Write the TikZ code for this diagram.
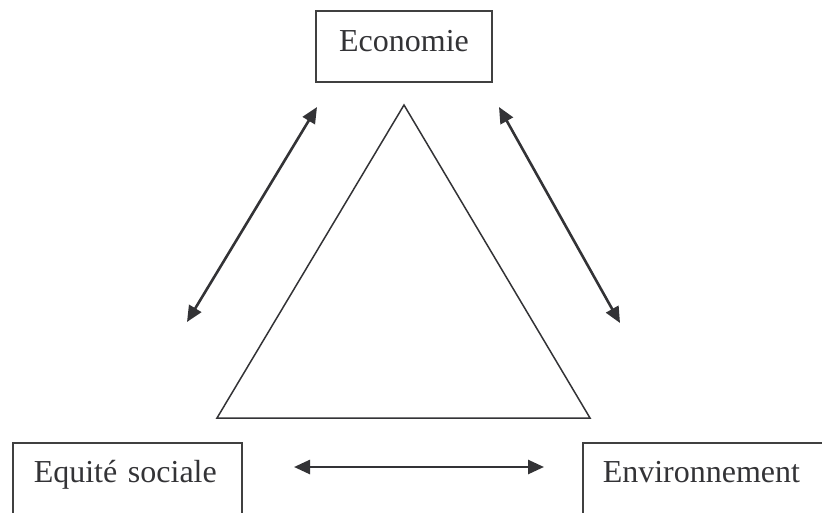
\documentclass[tikz,border=0pt]{standalone}
\usepackage{fontspec}
\setmainfont{Liberation Serif}
\usepackage{xcolor}
\usepackage{tikz}
\usetikzlibrary{arrows.meta,positioning}
\definecolor{ink}{HTML}{333336}
\definecolor{frame}{HTML}{404040}

\begin{document}
\begin{tikzpicture}[
  x=1pt,y=-1pt,
  box/.style={draw=frame,line width=1.5pt,text=ink,font=\fontsize{32}{38}\selectfont,
              inner xsep=0pt,inner ysep=0pt,text height=41pt,text depth=30pt},
  tri/.style={draw=ink,line width=1.5pt},
  arr/.style={{Triangle[length=16pt,width=14pt]}-{Triangle[length=16pt,width=14pt]},
              draw=ink,fill=ink,line width=2.6pt}
]
\useasboundingbox (0,0) rectangle (822,512);
\clip (0,0) rectangle (822,512);
\node[box,anchor=north,minimum width=176pt] (eco) at (404,10) {Economie};
\node[box,anchor=north west,text height=40pt,text depth=50pt,inner xsep=21pt,
      text width=187pt,align=left] (soc) at (12,442) {Equité sociale};
\node[box,anchor=north west,text height=40pt,text depth=50pt,inner xsep=20pt,
      text width=260pt,align=left] (env) at (582,442) {Environnement};
% triangle
\coordinate (top) at (404,105);
\coordinate (bl) at (217,418);
\coordinate (br) at (590,418);
\draw[tri] (top) -- (bl) -- (br) -- cycle;
% liens
\coordinate (a1) at (317,107);
\coordinate (a2) at (187,322);
\coordinate (b1) at (499,107);
\coordinate (b2) at (620,323);
\coordinate (c1) at (294,467);
\coordinate (c2) at (544,467);
\draw[arr] (a1) -- (a2);
\draw[arr] (b1) -- (b2);
\draw[arr] (c1) -- (c2);
\end{tikzpicture}
\end{document}
